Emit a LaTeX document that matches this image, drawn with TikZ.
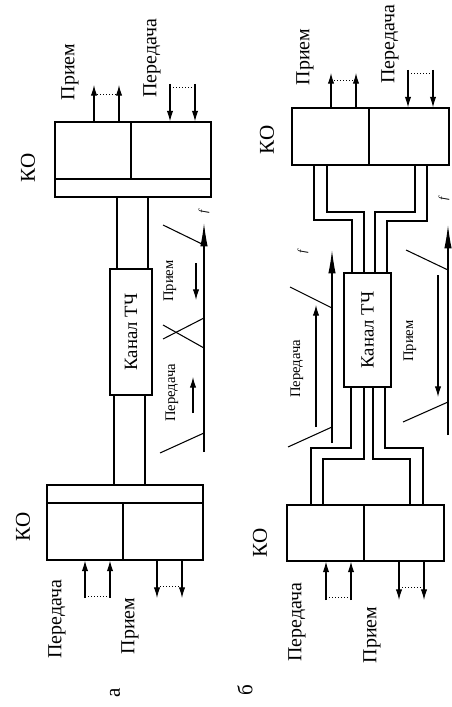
\documentclass[tikz,border=0pt]{standalone}
\usepackage{fontspec}
\setmainfont{Liberation Serif}
\usetikzlibrary{arrows.meta}

\begin{document}
\begin{tikzpicture}[x=0.03cm, y=-0.03cm, line width=0.9pt,
    box/.style={draw, inner sep=0pt},
    lbl/.style={rotate=90, font=\fontsize{17}{17}\selectfont},
    big/.style={rotate=90, font=\fontsize{18}{18}\selectfont},
    sml/.style={rotate=90, font=\fontsize{12.5}{12.5}\selectfont},
    tip/.style={-{Latex[length=3.2mm, width=1.9mm]}},
    axis/.style={-{Latex[length=7mm, width=2.2mm]}},
    dots/.style={dotted, line width=0.6pt}]
  \useasboundingbox (0,0) rectangle (451,707);

  % ---- a: one pair of wires, bands side by side
  \node[box, minimum width=4.68cm, minimum height=2.25cm] (koAt) at (133,159.5) {};
  \node[box, minimum width=4.68cm, minimum height=2.25cm] (koAb) at (125,522.5) {};
  \node[box, minimum width=1.26cm, minimum height=3.78cm] (chA) at (131,332) {};
  \node[lbl, font=\fontsize{16}{16}\selectfont] (chAtxt) at (chA) {Канал ТЧ};
  \draw (koAt.west |- 0,179) -- (koAt.east |- 0,179);
  \draw (koAt.north -| 131,0) -- (131,179);
  \draw (koAb.west |- 0,503) -- (koAb.east |- 0,503);
  \draw (koAb.south -| 123,0) -- (123,503);
  \foreach \x in {117,148} \draw (koAt.south -| \x,0) -- (chA.north -| \x,0);
  \foreach \x in {114,145} \draw (chA.south -| \x,0) -- (koAb.north -| \x,0);

  \foreach \x in {94,119} \draw[tip] (koAt.north -| \x,0) -- (\x,85);
  \draw[dots] (94,94) -- (119,94);
  \foreach \x in {170,195} \draw[tip] (\x,84) -- (koAt.north -| \x,0);
  \draw[dots] (170,87) -- (195,87);
  \foreach \x in {85,110} \draw[tip] (\x,598) -- (koAb.south -| \x,0);
  \draw[dots] (85,596) -- (110,596);
  \foreach \x in {157,182} \draw[tip] (koAb.south -| \x,0) -- (\x,598);
  \draw[dots] (157,586) -- (182,586);

  \node[lbl] (rxAt) at (70,72) {Прием};
  \node[lbl] (txAt) at (152,58) {Передача};
  \node[big] (koAtl) at (28,168) {КО};
  \node[lbl] (txAb) at (57,619) {Передача};
  \node[lbl] (rxAb) at (130,626) {Прием};
  \node[big] (koAbl) at (23,527) {КО};
  \node[big] (capA) at (115,693) {а};

  % spectrum of a
  \coordinate (fA0) at (204,452);
  \coordinate (fA1) at (204,223);
  \draw[axis] (fA0) -- (fA1);
  \node[rotate=90, font=\fontsize{10}{10}\itshape] (fA) at (204,212) {f};
  \draw (163,225) -- (204,245);
  \draw (163,339) -- (204,318);
  \draw (163,325) -- (204,348);
  \draw (160,453) -- (204,433);
  \draw[tip] (196,263) -- (196,300);
  \draw[tip] (193,413) -- (193,377);
  \node[sml] (rxAs) at (170,281) {Прием};
  \node[sml] (txAs) at (172,393) {Передача};

  % ---- б: two pairs of wires
  \node[box, minimum width=4.71cm, minimum height=1.71cm] (koBt) at (370.5,136.5) {};
  \node[box, minimum width=4.71cm, minimum height=1.68cm] (koBb) at (365.5,533) {};
  \node[box, minimum width=1.41cm, minimum height=3.42cm] (chB) at (367.5,330) {};
  \node[lbl, font=\fontsize{16}{16}\selectfont] (chBtxt) at (chB) {Канал ТЧ};
  \draw (koBt.north -| 369,0) -- (koBt.south -| 369,0);
  \draw (koBb.north -| 364,0) -- (koBb.south -| 364,0);

  \draw (koBt.south -| 314,0) |- (352,220) -- (chB.north -| 352,0);
  \draw (koBt.south -| 327,0) |- (364,212) -- (chB.north -| 364,0);
  \draw (koBt.south -| 415,0) |- (375,212) -- (chB.north -| 375,0);
  \draw (koBt.south -| 427,0) |- (387,221) -- (chB.north -| 387,0);
  \draw (chB.south -| 351,0) |- (311,448) -- (koBb.north -| 311,0);
  \draw (chB.south -| 364,0) |- (323,459) -- (koBb.north -| 323,0);
  \draw (chB.south -| 373,0) |- (410,459) -- (koBb.north -| 410,0);
  \draw (chB.south -| 385,0) |- (423,448) -- (koBb.north -| 423,0);

  \foreach \x in {331,356} \draw[tip] (koBt.north -| \x,0) -- (\x,73);
  \draw[dots] (331,80) -- (356,80);
  \foreach \x in {408,433} \draw[tip] (\x,70) -- (koBt.north -| \x,0);
  \draw[dots] (408,73) -- (433,73);
  \foreach \x in {326,351} \draw[tip] (\x,600) -- (koBb.south -| \x,0);
  \draw[dots] (326,597) -- (351,597);
  \foreach \x in {399,424} \draw[tip] (koBb.south -| \x,0) -- (\x,600);
  \draw[dots] (399,587) -- (424,587);

  \node[lbl] (rxBt) at (305,57) {Прием};
  \node[lbl] (txBt) at (390,44) {Передача};
  \node[big] (koBtl) at (267,140) {КО};
  \node[lbl] (txBb) at (297,622) {Передача};
  \node[lbl] (rxBb) at (372,635) {Прием};
  \node[big] (koBbl) at (260,543) {КО};
  \node[big] (capB) at (245,690) {б};

  % spectrum of б, send band
  \coordinate (fB0) at (332,443);
  \coordinate (fB1) at (332,250);
  \draw[axis] (fB0) -- (fB1);
  \node[rotate=90, font=\fontsize{10}{10}\itshape] (fB) at (303,252) {f};
  \draw (290,287) -- (332,308);
  \draw (288,447) -- (332,427);
  \draw[tip] (316,427) -- (316,305);
  \node[sml] (txBs) at (297,369) {Передача};
  % receive band
  \coordinate (fC0) at (448,435);
  \coordinate (fC1) at (448,225);
  \draw[axis] (fC0) -- (fC1);
  \node[rotate=90, font=\fontsize{10}{10}\itshape] (fC) at (444,199) {f};
  \draw (406,250) -- (448,270);
  \draw (403,422) -- (448,402);
  \draw[tip] (438,275) -- (438,397);
  \node[sml] (rxBs) at (410,341) {Прием};
\end{tikzpicture}
\end{document}
